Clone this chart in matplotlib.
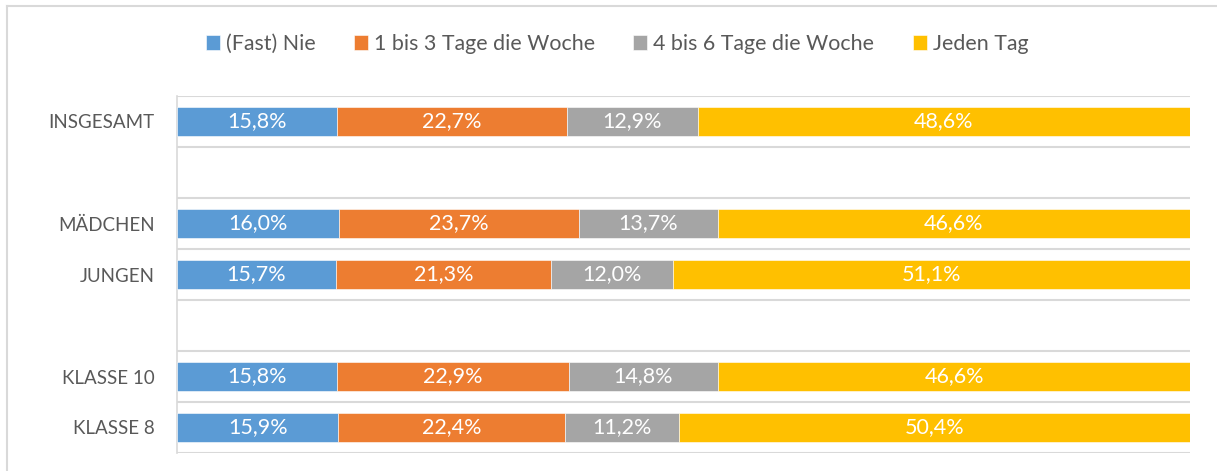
import matplotlib
matplotlib.use("Agg")
import matplotlib.pyplot as plt
from matplotlib.lines import Line2D
import numpy as np

# Kategorien von oben nach unten, leere Zeilen als Abstand
categories = ["INSGESAMT", "", "MÄDCHEN", "JUNGEN", "", "KLASSE 10", "KLASSE 8"]
series_names = ["(Fast) Nie", "1 bis 3 Tage die Woche", "4 bis 6 Tage die Woche", "Jeden Tag"]
colors = ["#5B9BD5", "#ED7D31", "#A5A5A5", "#FFC000"]

nie = [15.8, None, 16.0, 15.7, None, 15.8, 15.9]
tage_1_3 = [22.7, None, 23.7, 21.3, None, 22.9, 22.4]
tage_4_6 = [12.9, None, 13.7, 12.0, None, 14.8, 11.2]
jeden_tag = [48.6, None, 46.6, 51.1, None, 46.6, 50.4]

plt.rcParams["font.family"] = ["Lato", "DejaVu Sans"]

fig = plt.figure(figsize=(12.17, 4.71), dpi=100)
ax = fig.add_axes([177 / 1217, 18 / 471, (1190 - 177) / 1217, (453 - 96) / 471])

values = np.array([[np.nan if v is None else v for v in s]
                   for s in (nie, tage_1_3, tage_4_6, jeden_tag)])
y = np.arange(len(categories))
rows = ~np.isnan(values[0])          # nur Zeilen mit Daten
totals = np.nansum(values, axis=0)
shares = values[:, rows] / totals[rows] * 100  # 100%-gestapelt wie in Excel

left = np.zeros(rows.sum())
for i, name in enumerate(series_names):
    w = shares[i]
    ax.barh(y[rows], w, left=left, height=0.55, color=colors[i], label=name,
            edgecolor="white", linewidth=0.4, zorder=3)
    for yy, x0, ww, v in zip(y[rows], left, w, values[i, rows]):
        ax.text(x0 + ww / 2, yy, f"{v:.1f}%".replace(".", ","),
                ha="center", va="center", color="white", fontsize=15.5, zorder=4)
    left += w

ax.set_xlim(0, 100)
ax.set_ylim(len(categories) - 0.5, -0.5)
ax.set_yticks(y)
ax.set_yticklabels(categories, fontsize=13.5, color="#595959")
ax.tick_params(axis="y", length=0, pad=16)
ax.set_xticks([])
ax.set_yticks(np.arange(len(categories) + 1) - 0.5, minor=True)
ax.tick_params(axis="y", which="minor", length=0)
ax.grid(True, axis="y", which="minor", color="#D9D9D9", linewidth=1.5, zorder=0)
for s in ("top", "right", "bottom"):
    ax.spines[s].set_visible(False)
ax.spines["left"].set_color("#D9D9D9")
ax.spines["left"].set_linewidth(1.2)

fig.legend(loc="center", bbox_to_anchor=(0.507, 1 - 44 / 471), ncol=4, frameon=False,
           fontsize=15.4, handlelength=0.65, handleheight=0.65, handletextpad=0.28,
           columnspacing=1.8, labelcolor="#595959")

# Rahmen des Diagrammbereichs (links und oben sichtbar)
fig.add_artist(Line2D([7 / 1217, 7 / 1217], [0, 1 - 6 / 471], color="#D9D9D9", linewidth=1.5))
fig.add_artist(Line2D([7 / 1217, 1], [1 - 6 / 471, 1 - 6 / 471], color="#D9D9D9", linewidth=1.5))

fig.savefig("out.png", dpi=100)
